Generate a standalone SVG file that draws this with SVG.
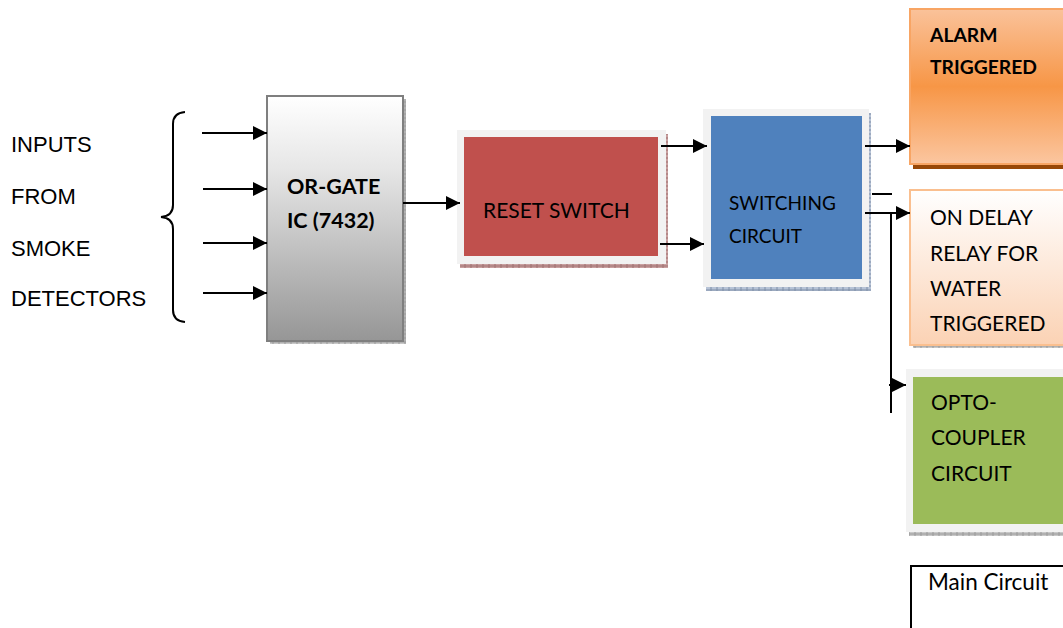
<svg xmlns="http://www.w3.org/2000/svg" width="1063" height="628" viewBox="0 0 1063 628">
<defs>
<style>
.lbl{font-family:"Liberation Sans",Arial,sans-serif;font-size:22px;fill:#000}
.cal{font-family:Lato,"Open Sans",sans-serif;font-size:21px;fill:#000}
.calb{font-family:Lato,"Open Sans",sans-serif;font-size:21.5px;font-weight:bold;fill:#000}
.ln{stroke:#000;stroke-width:2;fill:none}
</style>
<marker id="ah" markerWidth="14" markerHeight="14" refX="14" refY="7" orient="auto" markerUnits="userSpaceOnUse">
<path d="M0,0 L14,7 L0,14 Z" fill="#000"/>
</marker>
<pattern id="hatch" width="6" height="4" patternUnits="userSpaceOnUse">
<rect width="6" height="4" fill="#c8c8c8"/>
<path d="M0,2 H6 M3,0 V4" stroke="#9a9a9a" stroke-width="1"/>
</pattern>
<pattern id="hatchR" width="6" height="4" patternUnits="userSpaceOnUse">
<rect width="6" height="4" fill="#c9a0a0"/>
<path d="M0,2 H6 M3,0 V4" stroke="#a07070" stroke-width="1"/>
</pattern>
<pattern id="hatchB" width="6" height="4" patternUnits="userSpaceOnUse">
<rect width="6" height="4" fill="#b7c3d6"/>
<path d="M0,2 H6 M3,0 V4" stroke="#8090a8" stroke-width="1"/>
</pattern>
<linearGradient id="gOr" x1="0" y1="0" x2="0" y2="1">
<stop offset="0" stop-color="#ffffff"/>
<stop offset="0.3" stop-color="#e6e6e6"/>
<stop offset="1" stop-color="#969696"/>
</linearGradient>
<linearGradient id="gAl" x1="0" y1="0" x2="0" y2="1">
<stop offset="0" stop-color="#fac29a"/>
<stop offset="0.5" stop-color="#f79646"/>
<stop offset="1" stop-color="#fbc6a0"/>
</linearGradient>
<linearGradient id="gDl" x1="0" y1="0" x2="0" y2="1">
<stop offset="0" stop-color="#ffffff"/>
<stop offset="1" stop-color="#fbd2b4"/>
</linearGradient>
</defs>
<rect width="1063" height="628" fill="#fff"/>

<g id="inputs-label">
<text class="lbl" x="11" y="152">INPUTS</text>
<text class="lbl" x="11" y="204">FROM</text>
<text class="lbl" x="11" y="256">SMOKE</text>
<text class="lbl" x="11" y="306">DETECTORS</text>
<path class="ln" d="M185,112 Q173,113 173,124 V205 Q173,216 161,217 Q173,218 173,229 V310 Q173,321 185,322"/>
</g>

<g id="or-gate">
<rect x="270" y="99" width="136" height="245" fill="url(#hatch)"/>
<rect x="267" y="96" width="136" height="245" fill="url(#gOr)" stroke="#7f7f7f" stroke-width="2"/>
<text class="calb" x="287" y="194">OR-GATE</text>
<text class="calb" x="287" y="228">IC (7432)</text>
</g>

<g id="reset-switch">
<rect x="460" y="262" width="208" height="6" fill="url(#hatchR)"/>
<rect x="664" y="134" width="4" height="134" fill="url(#hatchR)"/>
<rect x="457" y="130" width="209" height="134" fill="#f2f2f2"/>
<rect x="464" y="137" width="194" height="119" fill="#c0504d"/>
<text class="cal" x="483" y="218">RESET SWITCH</text>
</g>

<g id="switching-circuit">
<rect x="706" y="285" width="165" height="6" fill="url(#hatchB)"/>
<rect x="866" y="113" width="5" height="178" fill="url(#hatchB)"/>
<rect x="703" y="109" width="166" height="178" fill="#f2f2f2"/>
<rect x="711" y="116" width="151" height="163" fill="#4f81bd"/>
<text class="cal" x="729" y="210" style="font-size:19px">SWITCHING</text>
<text class="cal" x="729" y="243" style="font-size:19px">CIRCUIT</text>
</g>

<g id="alarm">
<rect x="913" y="12" width="150" height="157" fill="#984807"/>
<rect x="910" y="9" width="155" height="155" fill="url(#gAl)" stroke="#f8a564" stroke-width="2"/>
<text class="calb" x="930" y="42" style="font-size:19.3px">ALARM</text>
<text class="calb" x="930" y="74" style="font-size:19.3px">TRIGGERED</text>
</g>

<g id="on-delay">
<rect x="913" y="342" width="150" height="6" fill="url(#hatch)"/>
<rect x="910" y="190" width="155" height="155" fill="url(#gDl)" stroke="#fabf8f" stroke-width="2"/>
<text class="cal" x="930" y="225">ON DELAY</text>
<text class="cal" x="930" y="261">RELAY FOR</text>
<text class="cal" x="930" y="296">WATER</text>
<text class="cal" x="930" y="331">TRIGGERED</text>
</g>

<g id="opto-coupler">
<rect x="909" y="530" width="154" height="6" fill="url(#hatch)"/>
<rect x="906" y="369" width="160" height="163" fill="#f2f2f2"/>
<rect x="913" y="377" width="150" height="147" fill="#9bbb59"/>
<text class="cal" x="931" y="410">OPTO-</text>
<text class="cal" x="931" y="445">COUPLER</text>
<text class="cal" x="931" y="481">CIRCUIT</text>
</g>

<g id="main-circuit">
<rect x="911" y="566" width="160" height="70" fill="#fff" stroke="#000" stroke-width="2"/>
<text class="cal" x="928" y="590" style="font-size:22.5px">Main Circuit</text>
</g>

<g id="connectors">
<line class="ln" x1="202" y1="133" x2="267" y2="133" marker-end="url(#ah)"/>
<line class="ln" x1="203" y1="189" x2="267" y2="189" marker-end="url(#ah)"/>
<line class="ln" x1="203" y1="243" x2="267" y2="243" marker-end="url(#ah)"/>
<line class="ln" x1="203" y1="293" x2="267" y2="293" marker-end="url(#ah)"/>
<line class="ln" x1="403" y1="203" x2="460" y2="203" marker-end="url(#ah)"/>
<line class="ln" x1="661" y1="146" x2="707" y2="146" marker-end="url(#ah)"/>
<line class="ln" x1="660" y1="244" x2="704" y2="244" marker-end="url(#ah)"/>
<line class="ln" x1="865" y1="146" x2="910" y2="146" marker-end="url(#ah)"/>
<line class="ln" x1="872" y1="194" x2="892" y2="194"/>
<line class="ln" x1="865" y1="213" x2="910" y2="213" marker-end="url(#ah)"/>
<line class="ln" x1="891" y1="213" x2="891" y2="413"/>
<line class="ln" x1="889" y1="385" x2="906" y2="385" marker-end="url(#ah)"/>
</g>
</svg>
